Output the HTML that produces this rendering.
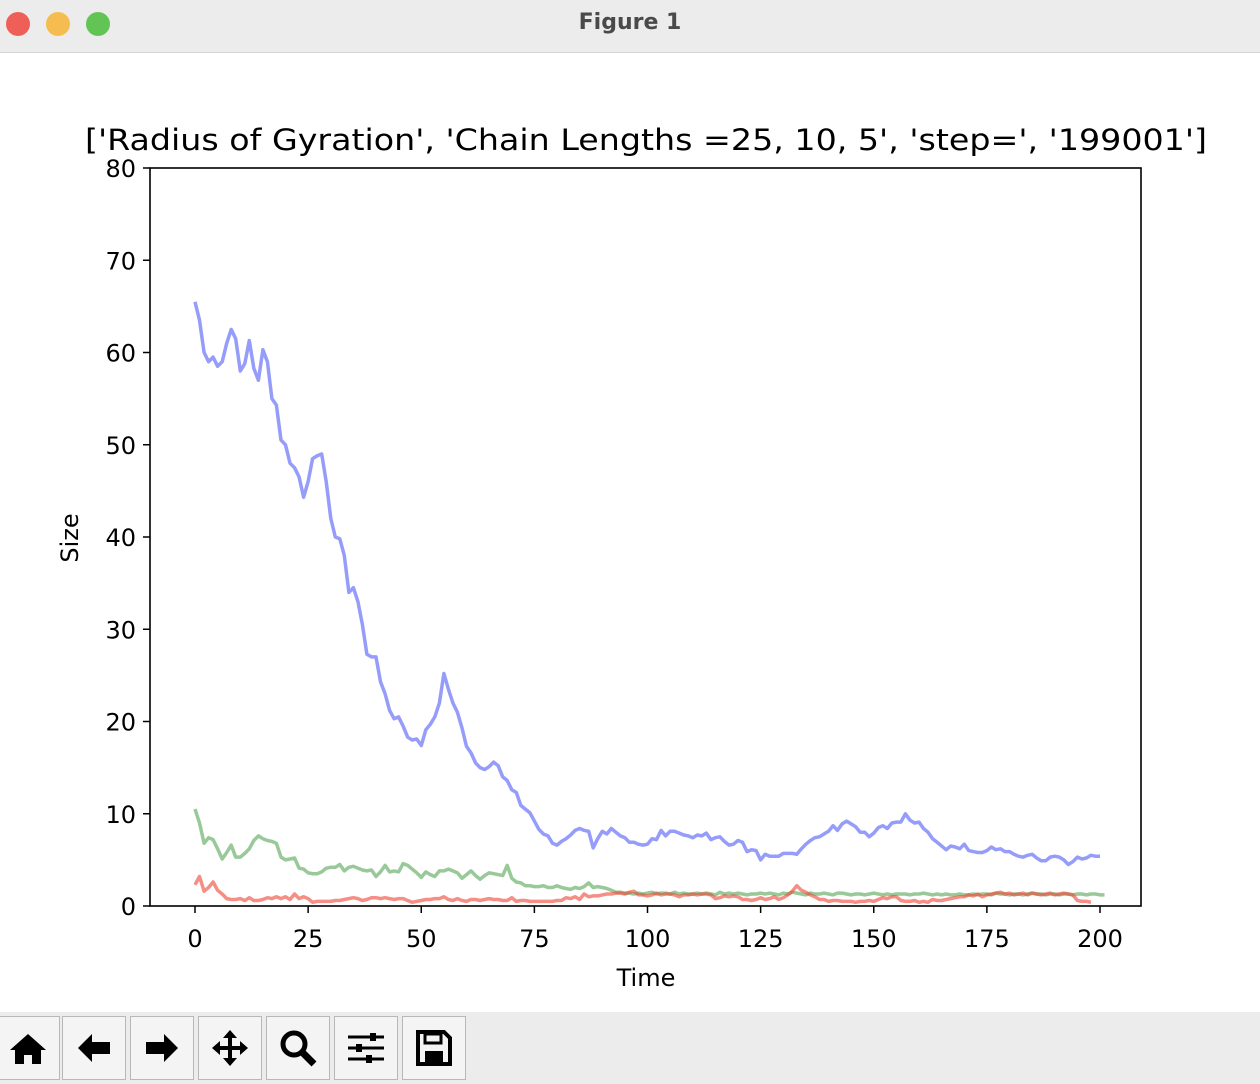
<!DOCTYPE html>
<html><head><meta charset="utf-8"><style>
body{margin:0;width:1260px;height:1084px;overflow:hidden;background:#fff;font-family:"DejaVu Sans","Liberation Sans",sans-serif}
#titlebar{position:absolute;left:0;top:0;width:1260px;height:52px;background:#ececec;border-bottom:1px solid #d6d6d6}
.dot{position:absolute;top:12px;width:24px;height:24px;border-radius:50%}
#wintitle{position:absolute;top:10px;width:100%;text-align:center;font-size:22px;font-weight:bold;color:#4a4a4a}
#toolbar{position:absolute;left:0;top:1012px;width:1260px;height:72px;background:#ececec}
.tb{position:absolute;top:4px;width:62px;height:62px;border:1px solid #b8b8b8;background:#f4f4f4}
.tb svg{position:absolute;left:11px;top:11px}
</style></head><body>
<div id="titlebar">
<div class="dot" style="left:6px;background:#ee5f57"></div>
<div class="dot" style="left:46px;background:#f5bd4f"></div>
<div class="dot" style="left:86px;background:#61c454"></div>
<div id="wintitle">Figure 1</div>
</div>
<svg id="chart" width="1260" height="1084" style="position:absolute;left:0;top:0"></svg>
<div id="toolbar">
<div class="tb" style="left:-4px"><svg width="40" height="40"><path d="M20 6 L38 22 L33 22 L33 36 L24 36 L24 27 L16 27 L16 36 L7 36 L7 22 L2 22 Z" fill="#000"/></svg></div>
<div class="tb" style="left:62px"><svg width="40" height="40"><path d="M4 20 L18 6 L18 14 L36 14 L36 26 L18 26 L18 34 Z" fill="#000"/></svg></div>
<div class="tb" style="left:130px"><svg width="40" height="40"><path d="M36 20 L22 6 L22 14 L4 14 L4 26 L22 26 L22 34 Z" fill="#000"/></svg></div>
<div class="tb" style="left:198px"><svg width="40" height="40"><path d="M20 2 L27 10 L22 10 L22 18 L30 18 L30 13 L38 20 L30 27 L30 22 L22 22 L22 30 L27 30 L20 38 L13 30 L18 30 L18 22 L10 22 L10 27 L2 20 L10 13 L10 18 L18 18 L18 10 L13 10 Z" fill="#000"/></svg></div>
<div class="tb" style="left:266px"><svg width="40" height="40"><circle cx="16" cy="16" r="11" fill="none" stroke="#000" stroke-width="5"/><path d="M24 24 L36 36" stroke="#000" stroke-width="7"/></svg></div>
<div class="tb" style="left:334px"><svg width="40" height="40"><path d="M2 9H38M2 20H38M2 31H38" stroke="#000" stroke-width="3"/><rect x="24" y="5" width="6" height="8" fill="#000"/><rect x="10" y="16" width="6" height="8" fill="#000"/><rect x="20" y="27" width="6" height="8" fill="#000"/></svg></div>
<div class="tb" style="left:402px"><svg width="40" height="40"><path d="M4 4 H30 L36 10 V36 H4 Z" fill="none" stroke="#000" stroke-width="4"/><rect x="11" y="6" width="16" height="9" fill="none" stroke="#000" stroke-width="3"/><rect x="11" y="23" width="18" height="12" fill="#000"/></svg></div>
</div>
<script>
const blue=[65.5,63.5,60,59,59.5,58.5,59,61,62.5,61.5,58,58.8,61.3,58.3,57,60.3,59,55,54.3,50.5,50,48,47.5,46.5,44.3,46,48.5,48.8,49,46,42,40,39.8,38,34,34.5,33,30.5,27.3,27,27,24.3,23,21.2,20.3,20.5,19.5,18.3,18,18.1,17.4,19.1,19.7,20.5,22,25.2,23.5,22,21,19.3,17.3,16.6,15.5,15,14.8,15.1,15.6,15.2,14,13.6,12.6,12.3,10.9,10.5,10.1,9.2,8.3,7.8,7.6,6.8,6.6,7,7.3,7.7,8.2,8.4,8.2,8.1,6.3,7.3,8.1,7.8,8.4,8,7.6,7.4,6.9,6.9,6.7,6.6,6.7,7.3,7.2,8.2,7.6,8.1,8.1,7.9,7.7,7.6,7.4,7.7,7.6,7.9,7.2,7.4,7.5,7,6.6,6.7,7.1,6.9,5.9,6.1,6,5,5.6,5.4,5.4,5.4,5.7,5.7,5.7,5.6,6.2,6.7,7.1,7.4,7.5,7.8,8.1,8.7,8.2,8.9,9.2,8.9,8.6,8,8,7.5,7.9,8.5,8.7,8.4,9,9.1,9.1,10,9.3,9,9.1,8.4,8,7.3,6.9,6.5,6.1,6.5,6.4,6.2,6.7,6,5.9,5.8,5.8,6,6.4,6.1,6.2,5.9,5.9,5.6,5.4,5.3,5.5,5.6,5.2,4.9,4.9,5.3,5.4,5.3,5,4.5,4.8,5.3,5.1,5.2,5.5,5.4,5.4];
const green=[10.5,9,6.8,7.4,7.2,6.2,5.1,5.8,6.6,5.3,5.3,5.7,6.2,7.1,7.6,7.3,7.1,7,6.8,5.3,5,5.1,5.2,4.1,4,3.6,3.5,3.5,3.7,4.1,4.2,4.2,4.5,3.8,4.2,4.3,4.1,3.9,3.8,3.9,3.2,3.7,4.4,3.7,3.8,3.7,4.6,4.4,4,3.6,3.1,3.7,3.4,3.2,3.8,3.8,4,3.8,3.6,3,3.4,3.8,3.3,2.9,3.3,3.6,3.5,3.4,3.3,4.4,3,2.6,2.5,2.2,2.2,2.1,2.1,2.2,2,2,2.2,2,1.9,1.8,2,1.9,2.1,2.5,2,2.1,2,1.9,1.7,1.5,1.5,1.4,1.4,1.3,1.4,1.3,1.4,1.5,1.3,1.4,1.4,1.3,1.5,1.3,1.4,1.3,1.3,1.4,1.3,1.4,1.3,1.2,1.5,1.3,1.4,1.3,1.4,1.3,1.2,1.3,1.3,1.4,1.3,1.4,1.3,1.2,1.4,1.3,1.5,1.4,1.3,1.2,1.4,1.3,1.3,1.4,1.3,1.2,1.4,1.4,1.3,1.2,1.3,1.3,1.2,1.3,1.4,1.3,1.2,1.3,1.2,1.3,1.3,1.3,1.2,1.3,1.3,1.4,1.3,1.2,1.3,1.2,1.3,1.2,1.2,1.3,1.2,1.2,1.3,1.2,1.3,1.3,1.2,1.4,1.3,1.3,1.2,1.3,1.3,1.2,1.3,1.4,1.3,1.3,1.2,1.3,1.3,1.2,1.3,1.3,1.2,1.3,1.3,1.2,1.3,1.3,1.2,1.2];
const red=[2.3,3.2,1.6,2,2.6,1.7,1.3,0.8,0.7,0.7,0.8,0.6,0.9,0.6,0.6,0.7,0.9,0.8,1,0.8,1,0.7,1.3,0.8,1,0.8,0.4,0.5,0.5,0.5,0.5,0.6,0.6,0.7,0.8,0.9,0.8,0.6,0.7,0.9,0.9,0.8,0.9,0.8,0.7,0.8,0.8,0.6,0.4,0.5,0.6,0.7,0.7,0.8,0.8,1,0.7,0.6,0.8,0.6,0.5,0.7,0.7,0.6,0.7,0.8,0.7,0.7,0.6,0.6,0.9,0.5,0.6,0.6,0.5,0.5,0.5,0.5,0.5,0.5,0.6,0.6,0.9,0.8,1,0.7,1.3,1,1.1,1.1,1.2,1.3,1.3,1.4,1.4,1.3,1.5,1.6,1.2,1.2,1.1,1.2,1.4,1.2,1.3,1.3,1.2,1,1.2,1.2,1.3,1.2,1.3,1.3,1.2,0.8,0.9,1.1,1,1.1,1,0.7,0.7,0.6,0.7,0.9,0.7,0.8,1,0.7,0.9,1.2,1.6,2.2,1.7,1.5,1.2,1,0.7,0.7,0.5,0.6,0.6,0.5,0.5,0.5,0.4,0.5,0.5,0.6,0.5,0.7,0.9,0.8,1,1,0.6,0.5,0.5,0.6,0.4,0.5,0.4,0.7,0.6,0.6,0.7,0.8,0.9,1,1,1.2,1.1,1.3,1,1.2,1.3,1.4,1.5,1.3,1.4,1.2,1.3,1.4,1.2,1.4,1.3,1.2,1.3,1.4,1.2,1.3,1.4,1.3,1.2,0.6,0.5,0.5,0.4];
const xTicks=[0,25,50,75,100,125,150,175,200];
const yTicks=[0,10,20,30,40,50,60,70,80];
const NS="http://www.w3.org/2000/svg";
const svg=document.getElementById('chart');
const L=150,R=1141,T=168,B=906;
const xs=t=>195+t*(1100-195)/200;
const ys=v=>B-v*(B-T)/80;
function mk(tag,attrs,parent){const e=document.createElementNS(NS,tag);for(const k in attrs)e.setAttribute(k,attrs[k]);(parent||svg).appendChild(e);return e;}
function txt(s,x,y,size,anchor,name,extra){const e=mk('text',Object.assign({x:x,y:y,'font-size':size,'text-anchor':anchor,fill:'#000','font-family':'DejaVu Sans, Liberation Sans, sans-serif'},extra||{}));e.textContent=s;return e;}
function series(arr,color,name){const d=arr.map((v,i)=>(i?'L':'M')+xs(i).toFixed(1)+','+ys(v).toFixed(1)).join('');const p=mk('path',{d:d,fill:'none',stroke:color,'stroke-width':3.5,'stroke-opacity':0.6,'stroke-linejoin':'round'});}
series(blue,'#4f5af7','series-blue');
series(green,'#55a555','series-green');
series(red,'#ee4433','series-red');
const frame=mk('rect',{x:L,y:T,width:R-L,height:B-T,fill:'none',stroke:'#000','stroke-width':1.6});


xTicks.forEach(t=>{const l=mk('line',{x1:xs(t),x2:xs(t),y1:B,y2:B+7,stroke:'#000','stroke-width':1.5});txt(String(t),xs(t),B+41,24,'middle','x-tick-label');});
yTicks.forEach(v=>{const l=mk('line',{x1:L-7,x2:L,y1:ys(v),y2:ys(v),stroke:'#000','stroke-width':1.5});txt(String(v),L-14,ys(v)+9,24,'end','y-tick-label');});
txt('Time',646,986,24,'middle','x-axis-title');
txt('Size',78,538,24,'middle','y-axis-title',{transform:'rotate(-90 78 538)'});
txt("['Radius of Gyration', 'Chain Lengths =25, 10, 5', 'step=', '199001']",646,150,29,'middle','chart-title',{textLength:1122,lengthAdjust:'spacingAndGlyphs'});
</script>
</body></html>
